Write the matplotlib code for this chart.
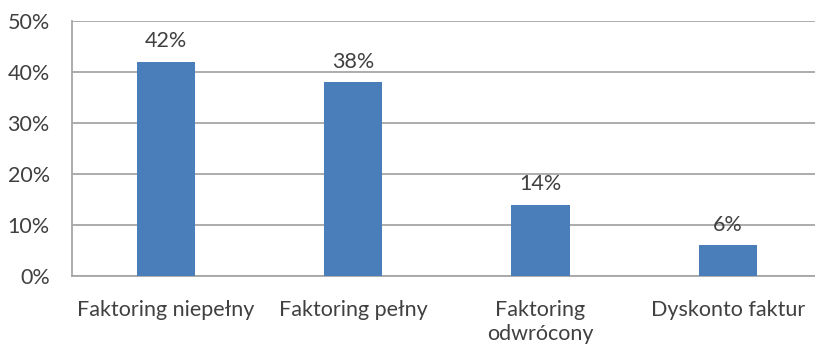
import matplotlib
matplotlib.use("Agg")
import matplotlib.pyplot as plt
from matplotlib.ticker import FuncFormatter

kategorie = ["Faktoring niepełny", "Faktoring pełny", "Faktoring\nodwrócony", "Dyskonto faktur"]
udzialy = [42, 38, 14, 6]

plt.rcParams['font.family'] = ['Lato', 'DejaVu Sans']
kolor_tekstu = "#404040"
kolor_siatki = "#a6a6a6"

fig = plt.figure(figsize=(8.15, 3.44), dpi=100)
ax = fig.add_axes([0.0883, 0.1977, 0.9117, 0.741])

x = range(len(kategorie))
slupki = ax.bar(x, udzialy, width=0.31, color="#4a7ebb", zorder=3)

for s, v in zip(slupki, udzialy):
    ax.annotate(f"{v}%", (s.get_x() + s.get_width() / 2, v),
                xytext=(0, 7.5), textcoords="offset points",
                ha="center", va="bottom", fontsize=15.5, color=kolor_tekstu)

ax.set_ylim(0, 50)
ax.set_xlim(-0.5, 3.465)
ax.set_yticks(range(0, 51, 10))
ax.yaxis.set_major_formatter(FuncFormatter(lambda v, _: f"{v:.0f}%"))
ax.set_xticks(list(x))
ax.set_xticklabels(kategorie, linespacing=1.25)

ax.grid(axis="y", color=kolor_siatki, linewidth=1.3, zorder=0)
ax.tick_params(axis="both", length=0, labelsize=15.5, colors=kolor_tekstu)
ax.tick_params(axis="y", pad=16)
ax.tick_params(axis="x", pad=17)
for side in ["top", "right"]:
    ax.spines[side].set_visible(False)
for side in ["left", "bottom"]:
    ax.spines[side].set_color(kolor_siatki)
    ax.spines[side].set_linewidth(1.3)

fig.savefig("out.png", dpi=100)
